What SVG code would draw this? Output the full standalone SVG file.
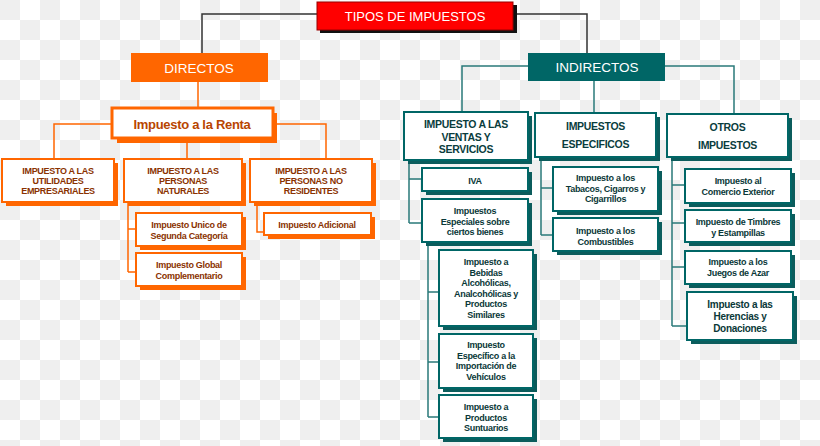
<svg xmlns="http://www.w3.org/2000/svg" width="820" height="446" viewBox="0 0 820 446">
<defs>
<pattern id="chk" width="40" height="40" patternUnits="userSpaceOnUse">
<rect width="40" height="40" fill="#ffffff"/>
<rect x="0" y="0" width="20" height="20" fill="#efefef"/>
<rect x="20" y="20" width="20" height="20" fill="#efefef"/>
</pattern>
<style>
text{font-family:"Liberation Sans",Arial,sans-serif;text-anchor:middle}
.wt{fill:#ffffff;font-size:13.5px}
.oh{fill:#8a3200;font-size:9px;font-weight:bold;letter-spacing:-0.3px}
.rt{fill:#b84500;font-size:13px;font-weight:bold;letter-spacing:-0.3px}
.th{fill:#0a3d3d;font-size:10.5px;font-weight:bold;letter-spacing:-0.3px}
.tc{fill:#0a3838;font-size:9px;font-weight:bold;letter-spacing:-0.3px}
.tcl{fill:#0a3838;font-size:10px;font-weight:bold;letter-spacing:-0.3px}
.os{fill:#ff6600}
.ob{fill:#ffffff;stroke:#ff6600;stroke-width:2}
.ts{fill:#0b5c5c}
.tb{fill:#ffffff;stroke:#006666;stroke-width:2}
.lk{fill:none;stroke:#333333;stroke-width:1.5}
.lo{fill:none;stroke:#ff6600;stroke-width:1.5}
.lt{fill:none;stroke:#2a7a7a;stroke-width:1.5}
</style>
</defs>
<rect width="820" height="446" fill="url(#chk)"/>

<g id="connectors">
<path class="lk" d="M317,14 H202 V53"/>
<path class="lk" d="M513,14 H587 V53"/>
<path class="lo" d="M198,82 V108"/>
<path class="lo" d="M112,124 H54 V159"/>
<path class="lo" d="M273,124 H326 V159"/>
<path class="lo" d="M187,140 V159"/>
<path class="lo" d="M128,202 V272 M128,229 H136 M128,272 H136"/>
<path class="lo" d="M257,202 V232 H264"/>
<path class="lt" d="M528,66 H462 V112"/>
<path class="lt" d="M594,81 V113"/>
<path class="lt" d="M665,66 H734 V114"/>
<path class="lt" d="M409,160 V223 M409,179 H422 M409,223 H422"/>
<path class="lt" d="M428,242 V417 M428,292 H439 M428,362 H439 M428,417 H439"/>
<path class="lt" d="M541,157 V235 M541,188 H553 M541,235 H553"/>
<path class="lt" d="M672,157 V326 M672,185 H685 M672,223 H685 M672,267 H685 M672,326 H687"/>
</g>

<g id="tipos">
<rect x="320" y="5" width="197" height="28" fill="#111111"/>
<rect x="317" y="2" width="196" height="28" fill="#ff0000" stroke="#990000" stroke-width="1"/>
<text class="wt" x="415" y="21" style="font-size:13px">TIPOS DE IMPUESTOS</text>
</g>

<g id="directos">
<rect x="131" y="53" width="137" height="29" fill="#ff6600"/>
<text class="wt" x="199" y="72.5">DIRECTOS</text>
</g>

<g id="indirectos">
<rect x="528" y="53" width="137" height="28" fill="#006666"/>
<text class="wt" x="597" y="72">INDIRECTOS</text>
</g>

<g id="renta">
<rect class="os" x="117" y="113" width="160" height="30"/>
<rect x="112" y="108" width="161" height="30" fill="#ffffff" stroke="#ff6600" stroke-width="3"/>
<text class="rt" x="192" y="128.5">Impuesto a la Renta</text>
</g>

<g id="utilidades">
<rect class="os" x="6" y="163" width="112" height="43"/>
<rect class="ob" x="2" y="159" width="112" height="43"/>
<text class="oh" x="58" y="174">IMPUESTO A LAS</text>
<text class="oh" x="58" y="184">UTILIDADES</text>
<text class="oh" x="58" y="194">EMPRESARIALES</text>
</g>

<g id="naturales">
<rect class="os" x="128" y="163" width="118" height="43"/>
<rect class="ob" x="124" y="159" width="118" height="43"/>
<text class="oh" x="183" y="174">IMPUESTO A LAS</text>
<text class="oh" x="183" y="184">PERSONAS</text>
<text class="oh" x="183" y="194">NATURALES</text>
</g>

<g id="noresidentes">
<rect class="os" x="254" y="163" width="122" height="43"/>
<rect class="ob" x="250" y="159" width="122" height="43"/>
<text class="oh" x="311" y="174">IMPUESTO A LAS</text>
<text class="oh" x="311" y="184">PERSONAS NO</text>
<text class="oh" x="311" y="194">RESIDENTES</text>
</g>

<g id="unico">
<rect class="os" x="140" y="217" width="106" height="33"/>
<rect class="ob" x="136" y="213" width="106" height="33"/>
<text class="oh" x="189" y="228">Impuesto Unico de</text>
<text class="oh" x="189" y="239">Segunda Categoría</text>
</g>

<g id="global">
<rect class="os" x="140" y="257" width="106" height="33"/>
<rect class="ob" x="136" y="253" width="106" height="33"/>
<text class="oh" x="189" y="268">Impuesto Global</text>
<text class="oh" x="189" y="279">Complementario</text>
</g>

<g id="adicional">
<rect class="os" x="268" y="217" width="107" height="22"/>
<rect class="ob" x="264" y="213" width="107" height="22"/>
<text class="oh" x="317" y="227.5">Impuesto Adicional</text>
</g>

<g id="ventas">
<rect class="ts" x="408" y="116" width="124" height="48"/>
<rect class="tb" x="404" y="112" width="124" height="48"/>
<text class="th" x="466" y="128">IMPUESTO A LAS</text>
<text class="th" x="466" y="140.5">VENTAS Y</text>
<text class="th" x="466" y="153">SERVICIOS</text>
</g>

<g id="especificos">
<rect class="ts" x="539" y="117" width="121" height="44"/>
<rect class="tb" x="535" y="113" width="121" height="44"/>
<text class="th" x="595.5" y="130">IMPUESTOS</text>
<text class="th" x="595.5" y="148">ESPECIFICOS</text>
</g>

<g id="otros">
<rect class="ts" x="671" y="118" width="121" height="43"/>
<rect class="tb" x="667" y="114" width="121" height="43"/>
<text class="th" x="727.5" y="131">OTROS</text>
<text class="th" x="727.5" y="149">IMPUESTOS</text>
</g>

<g id="iva">
<rect class="ts" x="426" y="172" width="106" height="23"/>
<rect class="tb" x="422" y="168" width="106" height="23"/>
<text class="tc" x="475" y="183.5">IVA</text>
</g>

<g id="especiales">
<rect class="ts" x="426" y="203" width="106" height="43"/>
<rect class="tb" x="422" y="199" width="106" height="43"/>
<text class="tc" x="475" y="214">Impuestos</text>
<text class="tc" x="475" y="224.5">Especiales sobre</text>
<text class="tc" x="475" y="235">ciertos bienes</text>
</g>

<g id="bebidas">
<rect class="ts" x="443" y="254" width="94" height="76"/>
<rect class="tb" x="439" y="250" width="94" height="76"/>
<text class="tc" x="486" y="265">Impuesto a</text>
<text class="tc" x="486" y="275.5">Bebidas</text>
<text class="tc" x="486" y="286">Alcohólicas,</text>
<text class="tc" x="486" y="296.5">Analcohólicas y</text>
<text class="tc" x="486" y="307">Productos</text>
<text class="tc" x="486" y="317.5">Similares</text>
</g>

<g id="importacion">
<rect class="ts" x="443" y="338" width="94" height="54"/>
<rect class="tb" x="439" y="334" width="94" height="54"/>
<text class="tc" x="486" y="348">Impuesto</text>
<text class="tc" x="486" y="358.5">Específico a la</text>
<text class="tc" x="486" y="369">Importación de</text>
<text class="tc" x="486" y="379.5">Vehículos</text>
</g>

<g id="suntuarios">
<rect class="ts" x="443" y="399" width="94" height="43"/>
<rect class="tb" x="439" y="395" width="94" height="43"/>
<text class="tc" x="486" y="410">Impuesto a</text>
<text class="tc" x="486" y="420.5">Productos</text>
<text class="tc" x="486" y="431">Suntuarios</text>
</g>

<g id="tabacos">
<rect class="ts" x="557" y="171" width="105" height="44"/>
<rect class="tb" x="553" y="167" width="105" height="44"/>
<text class="tc" x="605.5" y="181">Impuesto a los</text>
<text class="tc" x="605.5" y="191.5">Tabacos, Cigarros y</text>
<text class="tc" x="605.5" y="202">Cigarrillos</text>
</g>

<g id="combustibles">
<rect class="ts" x="557" y="222" width="105" height="33"/>
<rect class="tb" x="553" y="218" width="105" height="33"/>
<text class="tc" x="605.5" y="234">Impuesto a los</text>
<text class="tc" x="605.5" y="244.5">Combustibles</text>
</g>

<g id="comercio">
<rect class="ts" x="689" y="173" width="106" height="34"/>
<rect class="tb" x="685" y="169" width="106" height="34"/>
<text class="tc" x="738" y="184">Impuesto al</text>
<text class="tc" x="738" y="195">Comercio Exterior</text>
</g>

<g id="timbres">
<rect class="ts" x="689" y="214" width="106" height="32"/>
<rect class="tb" x="685" y="210" width="106" height="32"/>
<text class="tc" x="738" y="225">Impuesto de Timbres</text>
<text class="tc" x="738" y="236">y Estampillas</text>
</g>

<g id="juegos">
<rect class="ts" x="689" y="255" width="106" height="33"/>
<rect class="tb" x="685" y="251" width="106" height="33"/>
<text class="tc" x="738" y="265">Impuesto a los</text>
<text class="tc" x="738" y="276">Juegos de Azar</text>
</g>

<g id="herencias">
<rect class="ts" x="691" y="296" width="106" height="48"/>
<rect class="tb" x="687" y="292" width="106" height="48"/>
<text class="tcl" x="740" y="308">Impuesto a las</text>
<text class="tcl" x="740" y="320">Herencias y</text>
<text class="tcl" x="740" y="332">Donaciones</text>
</g>
</svg>
